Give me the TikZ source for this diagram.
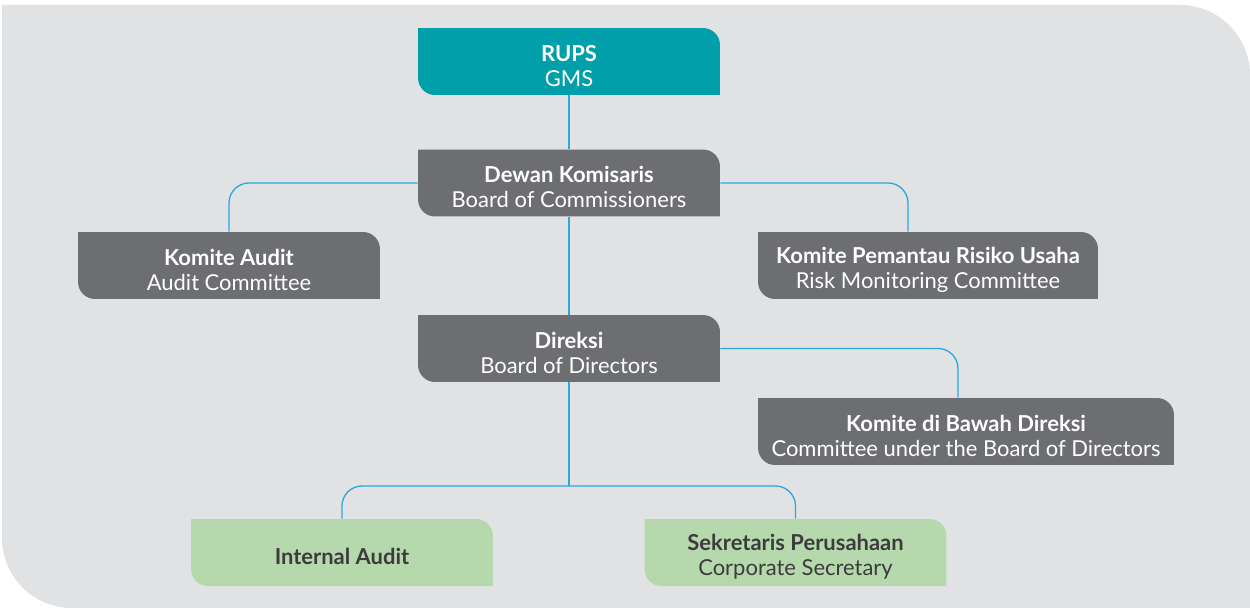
\documentclass[tikz,border=0pt]{standalone}
\usepackage{fontspec}
\setmainfont{Lato}
\usetikzlibrary{positioning}
\usetikzlibrary{calc}

\definecolor{bgGray}{HTML}{E1E2E4}
\definecolor{rupsTeal}{HTML}{009FA9}
\definecolor{boxGray}{HTML}{6D6E71}
\definecolor{boxGreen}{HTML}{B5D8AC}
\definecolor{lineBlue}{HTML}{2AA8DF}
\definecolor{darkText}{HTML}{3C3C3C}

\tikzset{
    dropby/.store in=\orgdrop,
    dropby=28pt,
    orgbox/.style={
        rectangle, inner sep=0pt,
        minimum width=6.04cm, minimum height=1.34cm,
        align=center, text=white,
        font=\fontsize{12.5}{14.2}\selectfont,
        execute at begin node={\rule{0pt}{\orgdrop}},
        path picture={
            \fill[#1] (path picture bounding box.north west)
                -- ($(path picture bounding box.north east)+(-0.34cm,0)$)
                arc[start angle=90, end angle=0, radius=0.34cm]
                -- (path picture bounding box.south east)
                -- ($(path picture bounding box.south west)+(0.34cm,0)$)
                arc[start angle=270, end angle=180, radius=0.34cm]
                -- cycle;
        }
    },
    link/.style={draw=lineBlue, line width=0.75pt, rounded corners=0.4cm}
}

\begin{document}
\begin{tikzpicture}[x=0.02cm, y=0.02cm]

    \useasboundingbox (0,0) rectangle (1250,-608);

    % Background
    \fill[bgGray] (2,-5) -- (1180,-5) arc[start angle=90, end angle=0, radius=70]
        -- (1250,-608) -- (72,-608) arc[start angle=270, end angle=180, radius=70] -- cycle;

    % Boxes
    \node[orgbox=rupsTeal] (rups) at (569,-61.5) {\textbf{RUPS}\\GMS};
    \node[orgbox=boxGray] (dekom) at (569,-183) {\textbf{Dewan Komisaris}\\Board of Commissioners};
    \node[orgbox=boxGray] (kaudit) at (229,-265.5) {\textbf{Komite Audit}\\Audit Committee};
    \node[orgbox=boxGray, minimum width=6.8cm] (kprus) at (928,-265.5)
        {\textbf{Komite Pemantau Risiko Usaha}\\Risk Monitoring Committee};
    \node[orgbox=boxGray] (direksi) at (569,-348.5) {\textbf{Direksi}\\Board of Directors};
    \node[orgbox=boxGray, minimum width=8.32cm] (kbawah) at (966,-431.5)
        {\textbf{Komite di Bawah Direksi}\\Committee under the Board of Directors};
    \node[orgbox=boxGreen, text=darkText, dropby=14pt] (ia) at (342,-552.5) {\textbf{Internal Audit}};
    \node[orgbox=boxGreen, text=darkText] (sekper) at (795.5,-552.5)
        {\textbf{Sekretaris Perusahaan}\\Corporate Secretary};

    % Connectors
    \draw[link] (rups) -- (dekom);
    \draw[link] (dekom) -- (direksi);
    \draw[link] (dekom.west) -| (kaudit.north);
    \draw[link] (dekom.east) -| ([xshift=-0.4cm]kprus.north);
    \draw[link] (direksi.east) -| ([xshift=-0.16cm]kbawah.north);

    \coordinate (split) at (569,-486);
    \draw[link] (direksi.south) -- (split);
    \draw[link] (split) -| (ia.north);
    \draw[link] (split) -| (sekper.north);

\end{tikzpicture}
\end{document}
